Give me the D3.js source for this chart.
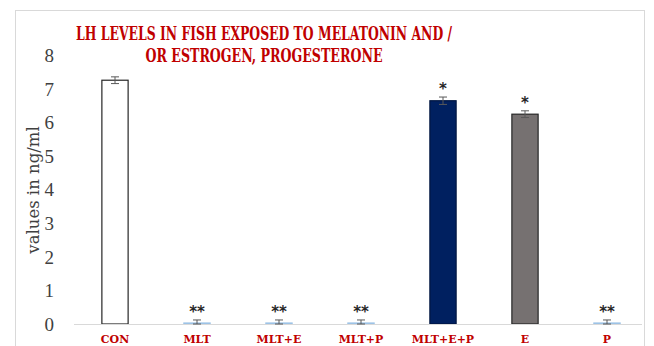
<!DOCTYPE html>
<html>
<head>
<meta charset="utf-8">
<script src="https://cdn.jsdelivr.net/npm/d3@7"></script>
<style>
  html, body { margin: 0; padding: 0; background: #fff; }
  svg { display: block; }
</style>
</head>
<body>
<svg id="chart" width="654" height="346"></svg>
<script>
// LH levels (ng/ml) per treatment group
const categories = ["CON", "MLT", "MLT+E", "MLT+P", "MLT+E+P", "E", "P"];
const values = [7.25, 0.03, 0.03, 0.03, 6.64, 6.24, 0.03];
const errors = [0.1, 0.09, 0.09, 0.09, 0.11, 0.1, 0.09];
const marks = ["", "**", "**", "**", "*", "*", "**"];
const yTicks = [0, 1, 2, 3, 4, 5, 6, 7, 8];
const titleLines = ["LH LEVELS IN FISH EXPOSED TO MELATONIN AND /", "OR ESTROGEN, PROGESTERONE"];
const yTitle = "values in ng/ml";

const fills = ["#ffffff", "#9dc3e6", "#9dc3e6", "#9dc3e6", "#002060", "#767171", "#9dc3e6"];
const strokes = ["#262626", "#9dc3e6", "#9dc3e6", "#9dc3e6", "#001540", "#262626", "#9dc3e6"];

const svg = d3.select("#chart");

// chart frame
svg.append("rect")
  .attr("x", 15.5).attr("y", 10.5)
  .attr("width", 629).attr("height", 345)
  .attr("fill", "none").attr("stroke", "#d9d9d9");

const x = d3.scaleBand().domain(categories).range([74, 648]).paddingInner(0.68).paddingOuter(0.34);
const y = d3.scaleLinear().domain([0, 8]).range([324, 55]);

// title
const title = svg.append("text")
  .attr("text-anchor", "middle")
  .attr("fill", "#c00000")
  .attr("font-family", "'DejaVu Serif Condensed', 'DejaVu Serif', serif")
  .attr("font-stretch", "condensed")
  .attr("font-weight", "bold")
  .attr("font-size", 18);
title.append("tspan").attr("x", 264).attr("y", 40).attr("textLength", 376).attr("lengthAdjust", "spacingAndGlyphs").text(titleLines[0]);
title.append("tspan").attr("x", 264).attr("y", 62).attr("textLength", 237).attr("lengthAdjust", "spacingAndGlyphs").text(titleLines[1]);

// y axis (labels only)
const yAxis = d3.axisLeft(y).tickValues(yTicks).tickSize(0).tickPadding(0).tickFormat(d3.format("d"));
const gy = svg.append("g").attr("transform", "translate(54,0)").call(yAxis);
gy.select(".domain").remove();
gy.selectAll("text")
  .attr("fill", "#404040")
  .attr("font-family", "'Liberation Serif', serif")
  .attr("font-size", 19)
  .attr("dy", "0.34em");

svg.append("text")
  .attr("transform", "translate(39,190) rotate(-90)")
  .attr("text-anchor", "middle")
  .attr("fill", "#404040")
  .attr("font-family", "'DejaVu Serif', serif")
  .attr("font-size", 16.5)
  .text(yTitle);

// bars
svg.append("g").selectAll("rect")
  .data(categories)
  .join("rect")
  .attr("x", d => x(d))
  .attr("y", (d, i) => y(values[i]))
  .attr("width", x.bandwidth())
  .attr("height", (d, i) => y(0) - y(values[i]))
  .attr("fill", (d, i) => fills[i])
  .attr("stroke", (d, i) => strokes[i])
  .attr("stroke-width", 1.2);

// baseline
svg.append("line")
  .attr("x1", 74).attr("x2", 642)
  .attr("y1", y(0) + 0.5).attr("y2", y(0) + 0.5)
  .attr("stroke", "#d9d9d9").attr("stroke-width", 1);

// error bars
const eb = svg.append("g").attr("stroke", "#595959").attr("stroke-width", 1);
categories.forEach((c, i) => {
  const cx = x(c) + x.bandwidth() / 2;
  const top = y(values[i] + errors[i]);
  const bot = y(Math.max(0, values[i] - errors[i]));
  eb.append("line").attr("x1", cx).attr("x2", cx).attr("y1", top).attr("y2", bot);
  eb.append("line").attr("x1", cx - 4).attr("x2", cx + 4).attr("y1", top).attr("y2", top);
  eb.append("line").attr("x1", cx - 4).attr("x2", cx + 4).attr("y1", bot).attr("y2", bot);
});

// significance marks
svg.append("g").selectAll("text")
  .data(categories)
  .join("text")
  .attr("x", d => x(d) + x.bandwidth() / 2)
  .attr("y", (d, i) => y(values[i] + errors[i]) + 5)
  .attr("text-anchor", "middle")
  .attr("fill", "#262626")
  .attr("font-family", "'DejaVu Sans', sans-serif")
  .attr("font-weight", "bold")
  .attr("font-size", 15)
  .attr("dy", "-0.55em")
  .text((d, i) => marks[i]);

// category labels
svg.append("g").selectAll("text")
  .data(categories)
  .join("text")
  .attr("x", d => x(d) + x.bandwidth() / 2)
  .attr("y", 343)
  .attr("text-anchor", "middle")
  .attr("fill", "#c00000")
  .attr("font-family", "'DejaVu Serif', serif")
  .attr("font-weight", "bold")
  .attr("font-size", 11)
  .text(d => d);
</script>
</body>
</html>
